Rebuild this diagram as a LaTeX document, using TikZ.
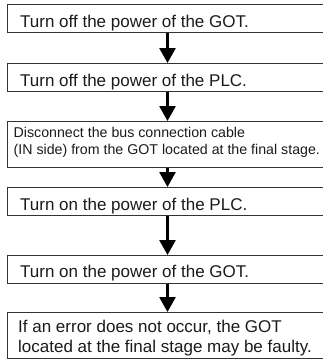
\documentclass[tikz,border=0pt]{standalone}
\usepackage{fontspec}
\setmainfont{Liberation Sans}
\usetikzlibrary{arrows.meta}
\definecolor{boxline}{HTML}{333333}
\definecolor{txt}{HTML}{1A1A1A}
\tikzset{
  stepbox/.style={draw=boxline, line width=1.3pt, rectangle, inner sep=0pt, minimum width=340pt, anchor=north west},
  bigtxt/.style={anchor=base west, inner sep=0pt, text=txt, font=\fontsize{17}{20}\selectfont},
  smalltxt/.style={anchor=base west, inner sep=0pt, text=txt, font=\fontsize{14.2}{17}\selectfont},
  flowarrow/.style={draw=black, line width=2.7pt, -{Triangle[width=16pt,length=15pt]}}
}
\begin{document}
\begin{tikzpicture}[x=1pt, y=-1pt]
\clip (0,0) rectangle (323,360);
\useasboundingbox (0,0) rectangle (323,360);
\coordinate (ax) at (167.5,0);
\node[stepbox, minimum height=28pt] (b1) at (7,4) {};
\node[stepbox, minimum height=28pt] (b2) at (7,63) {};
\node[stepbox, minimum height=46pt] (b3) at (7,121) {};
\node[stepbox, minimum height=28pt] (b4) at (7,187) {};
\node[stepbox, minimum height=28pt] (b5) at (7,255) {};
\node[stepbox, minimum height=46pt] (b6) at (7,312) {};
\node[bigtxt] (t1) at (20,27) {Turn off the power of the GOT.};
\node[bigtxt] (t2) at (20,86) {Turn off the power of the PLC.};
\node[smalltxt] (t3a) at (13.5,137.5) {Disconnect the bus connection cable};
\node[smalltxt] (t3b) at (13.5,154.5) {(IN side) from the GOT located at the final stage.};
\node[bigtxt] (t4) at (20,210) {Turn on the power of the PLC.};
\node[bigtxt] (t5) at (20,277.5) {Turn on the power of the GOT.};
\node[bigtxt] (t6a) at (18,332) {If an error does not occur, the GOT};
\node[bigtxt] (t6b) at (18,352) {located at the final stage may be faulty.};
\draw[flowarrow] (b1.south -| ax) -- (b2.north -| ax);
\draw[flowarrow] (b2.south -| ax) -- (b3.north -| ax);
\draw[flowarrow] (b3.south -| ax) -- (b4.north -| ax);
\draw[flowarrow] (b4.south -| ax) -- (b5.north -| ax);
\draw[flowarrow] (b5.south -| ax) -- (b6.north -| ax);
\end{tikzpicture}
\end{document}
